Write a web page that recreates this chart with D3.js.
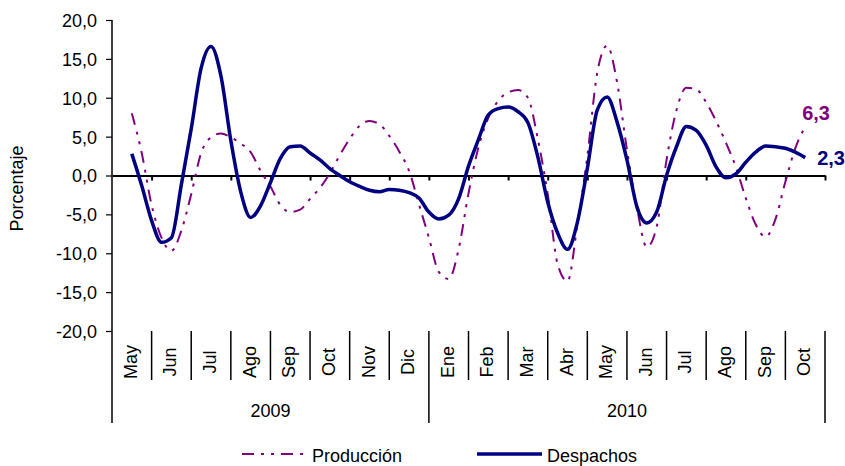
<!DOCTYPE html>
<html>
<head>
<meta charset="utf-8">
<script src="https://cdn.jsdelivr.net/npm/d3@7"></script>
<style>
  body { margin: 0; background: #fff; }
  svg text { font-family: "Liberation Sans", Arial, sans-serif; fill: #000; }
</style>
</head>
<body>
<div id="chart"></div>
<script>
// Months shown on the category axis (May 2009 - Oct 2010)
const months = ["May", "Jun", "Jul", "Ago", "Sep", "Oct", "Nov", "Dic",
  "Ene", "Feb", "Mar", "Abr", "May", "Jun", "Jul", "Ago", "Sep", "Oct"];
const years = ["2009", "2010"];
const monthsPerYear = [8, 10];
const yTicks = [-20, -15, -10, -5, 0, 5, 10, 15, 20];

// Weekly-ish readings, 4 per month, starting mid-May 2009
const pointsPerMonth = 4;
const produccion = [
  8.0, 2.9, -3.8, -8.0, -9.7, -7.1, -2.4, 2.9,
  4.9, 5.4, 4.9, 4.1, 3.0, 0.6, -1.4, -3.8,
  -4.7, -4.4, -3.0, -1.6, 0.3, 2.6, 4.7, 6.4,
  7.0, 6.6, 5.1, 3.1, 0.6, -3.7, -8.0, -12.4,
  -13.3, -9.5, -2.3, 3.6, 7.4, 9.6, 10.7, 11.0,
  10.0, 4.7, -2.4, -11.4, -13.6, -6.3, 2.5, 13.2,
  16.7, 12.0, 3.3, -4.1, -9.2, -6.6, 2.0, 8.4,
  11.3, 11.1, 9.4, 7.0, 4.2, 1.1, -2.9, -6.3,
  -7.9, -5.6, -0.8, 3.5, 6.3
];
const despachos = [
  2.8, -1.3, -5.8, -8.6, -8.0, -1.2, 6.0, 13.8,
  16.6, 12.8, 4.5, -2.1, -5.4, -3.9, -0.9, 2.2,
  3.7, 3.8, 2.9, 2.0, 0.9, 0.0, -0.8, -1.4,
  -1.9, -2.1, -1.8, -1.9, -2.2, -2.9, -4.7, -5.6,
  -5.1, -3.0, 1.2, 4.6, 7.8, 8.6, 8.8, 8.2,
  6.8, 2.4, -3.4, -7.4, -9.5, -6.0, 0.9, 8.4,
  10.1, 6.9, 2.0, -4.0, -6.1, -4.7, 0.0, 3.7,
  6.3, 5.8, 3.9, 1.1, -0.3, 0.2, 1.7, 3.0,
  3.8, 3.7, 3.5, 3.0, 2.3
];

const width = 845;
const height = 466;
const margin = { top: 20, right: 20, bottom: 135, left: 112 };
const PURPLE = "#800080";
const NAVY = "#000080";

const svg = d3.select("#chart").append("svg")
  .attr("width", width)
  .attr("height", height);

// Scales
const x = d3.scaleLinear()
  .domain([-0.5, months.length - 0.5])
  .range([margin.left, width - margin.right]);
const xBand = d3.scaleBand()
  .domain(d3.range(months.length))
  .range([margin.left, width - margin.right]);
const y = d3.scaleLinear()
  .domain([-20, 20])
  .range([height - margin.bottom, margin.top]);

const fmt = (d) => d3.format(".1f")(d).replace(".", ",").replace("\u2212", "-");

// Y axis
const yAxis = svg.append("g")
  .attr("transform", `translate(${margin.left},0)`)
  .call(d3.axisLeft(y).tickValues(yTicks).tickFormat(fmt).tickSize(6).tickSizeOuter(0));
yAxis.select(".domain").remove();
yAxis.selectAll(".tick line").attr("stroke", "#000").attr("stroke-width", 1.2);
yAxis.selectAll(".tick text")
  .attr("x", -15)
  .attr("dy", "0.36em")
  .style("font-size", "18px");

// Left frame line (runs down through the category area)
const catTop = y(-20);
const monthBottom = catTop + 49;
const yearBottom = catTop + 92;
svg.append("line")
  .attr("x1", margin.left).attr("x2", margin.left)
  .attr("y1", margin.top).attr("y2", yearBottom)
  .attr("stroke", "#000").attr("stroke-width", 1.5);

// Zero line with month ticks
const boundaries = d3.range(months.length + 1).map((i) => i - 0.5);
const zeroAxis = svg.append("g")
  .attr("transform", `translate(0,${y(0)})`)
  .call(d3.axisBottom(x).tickValues(boundaries.slice(1)).tickFormat("").tickSize(5).tickSizeOuter(0));
zeroAxis.select(".domain").attr("stroke", "#000").attr("stroke-width", 2);
zeroAxis.selectAll(".tick line").attr("stroke", "#000").attr("stroke-width", 2);

// Category separators
const yearEnds = d3.cumsum(monthsPerYear);
svg.append("g")
  .selectAll("line")
  .data(boundaries.slice(1))
  .join("line")
  .attr("x1", (d) => x(d)).attr("x2", (d) => x(d))
  .attr("y1", catTop)
  .attr("y2", (d, i) => (yearEnds.includes(i + 1) ? yearBottom : monthBottom))
  .attr("stroke", "#000").attr("stroke-width", 1.5);

// Month labels
svg.append("g")
  .selectAll("text")
  .data(months)
  .join("text")
  .attr("transform", (d, i) => `translate(${xBand(i) + xBand.bandwidth() / 2},${catTop + 31}) rotate(-90)`)
  .attr("text-anchor", "middle")
  .attr("dy", "0.28em")
  .style("font-size", "18px")
  .text((d) => d);

// Year labels
const yearStarts = [0, ...yearEnds];
svg.append("g")
  .selectAll("text")
  .data(years)
  .join("text")
  .attr("x", (d, i) => (x(yearStarts[i] - 0.5) + x(yearStarts[i + 1] - 0.5)) / 2)
  .attr("y", catTop + 86)
  .attr("text-anchor", "middle")
  .style("font-size", "18px")
  .text((d) => d);

// Y title
svg.append("text")
  .attr("transform", `translate(23,${(margin.top + catTop) / 2 + 13}) rotate(-90)`)
  .attr("text-anchor", "middle")
  .style("font-size", "18px")
  .text("Porcentaje");

// Lines
const line = d3.line()
  .x((d, i) => x(i / pointsPerMonth))
  .y((d) => y(d))
  .curve(d3.curveMonotoneX);

svg.append("path")
  .datum(produccion)
  .attr("d", line)
  .attr("fill", "none")
  .attr("stroke", PURPLE)
  .attr("stroke-width", 2)
  .attr("stroke-dasharray", "12,7,3,7,3,7");

svg.append("path")
  .datum(despachos)
  .attr("d", line)
  .attr("fill", "none")
  .attr("stroke", NAVY)
  .attr("stroke-width", 3.5)
  .attr("stroke-linejoin", "round");

// End labels
const lastX = x((produccion.length - 1) / pointsPerMonth);
svg.append("text")
  .attr("x", lastX - 3)
  .attr("y", y(produccion[produccion.length - 1]) - 7)
  .style("font-size", "20px")
  .style("font-weight", "bold")
  .style("fill", PURPLE)
  .text(fmt(produccion[produccion.length - 1]).replace(/,0$/, ""));

svg.append("text")
  .attr("x", lastX + 12)
  .attr("y", y(despachos[despachos.length - 1]) + 7)
  .style("font-size", "20px")
  .style("font-weight", "bold")
  .style("fill", NAVY)
  .text(fmt(despachos[despachos.length - 1]));

// Legend
const legend = svg.append("g").attr("transform", "translate(242,454)");
const legendItems = [
  { label: "Producción", color: PURPLE, width: 2, dash: "12,7,3,7,3,7", dx: 0 },
  { label: "Despachos", color: NAVY, width: 3.5, dash: null, dx: 235 }
];
legendItems.forEach((d) => {
  const g = legend.append("g").attr("transform", `translate(${d.dx},0)`);
  g.append("line")
    .attr("x1", 0).attr("x2", 65)
    .attr("stroke", d.color)
    .attr("stroke-width", d.width)
    .attr("stroke-dasharray", d.dash);
  g.append("text")
    .attr("x", 70)
    .attr("y", 8)
    .style("font-size", "18px")
    .text(d.label);
});
</script>
</body>
</html>
